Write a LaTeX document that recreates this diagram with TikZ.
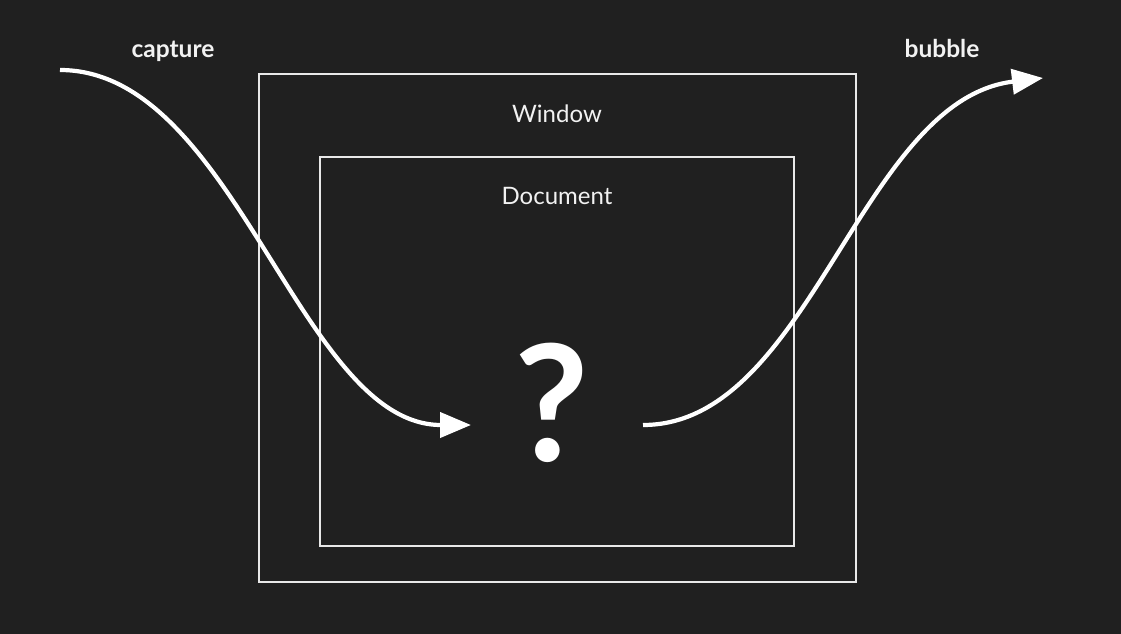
\documentclass[tikz,border=0pt]{standalone}
\usepackage{fontspec}
\setmainfont{Lato}
\usetikzlibrary{arrows.meta}
\definecolor{bg}{HTML}{202020}
\definecolor{boxline}{HTML}{E8E8E8}
\definecolor{txt}{HTML}{F2F2F2}
\begin{document}
\begin{tikzpicture}[x=1pt,y=-1pt,
  frame/.style={draw=boxline,line width=1.3pt},
  lbl/.style={text=txt,font=\fontsize{24}{28}\selectfont,inner sep=0pt},
  flowlbl/.style={text=txt,font=\bfseries\fontsize{24.5}{28}\selectfont,inner sep=0pt},
  flow/.style={draw=white,line width=4.2pt,-{Triangle[length=31pt,width=25pt]}}]
\fill[bg] (0,0) rectangle (1121,634);
\useasboundingbox (0,0) rectangle (1121,634);
\draw[frame] (259,74) rectangle (856,582);
\draw[frame] (320,157) rectangle (794,546);
\node[lbl] (win) at (557,114) {Window};
\node[lbl] (doc) at (557,196) {Document};
\node[flowlbl] (cap) at (173,51) {capture};
\node[flowlbl] (bub) at (942,48) {bubble};
\node[text=white,font=\bfseries\fontsize{162}{170}\selectfont,inner sep=0pt,anchor=base] (q) at (552,461) {?};
\coordinate (cs) at (60,70);
\coordinate (ce) at (471,425);
\coordinate (bs) at (643,425);
\coordinate (be) at (1043,78);
\draw[flow] (cs) .. controls (235,70) and (300,425) .. (ce);
\draw[flow] (bs) .. controls (810,425) and (860,100) .. (be);
\end{tikzpicture}
\end{document}
